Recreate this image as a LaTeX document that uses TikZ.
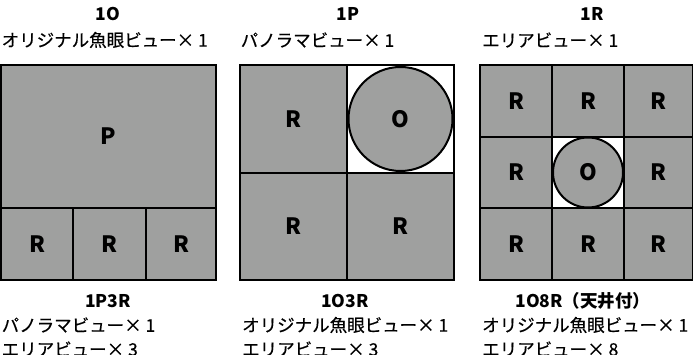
\documentclass[tikz,border=0pt]{standalone}
\usepackage{fontspec}
\setmainfont{Noto Sans CJK JP}
\newfontfamily\jpmed{Noto Sans CJK JP}[FakeBold=0.4]
\definecolor{cellgray}{RGB}{159,160,159}
\begin{document}
\begin{tikzpicture}[x=1pt,y=-1pt,
  cell/.style={draw=black, fill=cellgray, line width=2pt, inner sep=0pt, outer sep=0pt,
    rectangle, font=\fontsize{22.5}{24}\selectfont\bfseries},
  wcell/.style={draw=black, fill=white, line width=2pt, inner sep=0pt, outer sep=0pt, rectangle},
  eye/.style={draw=black, fill=cellgray, line width=2pt, inner sep=0pt, outer sep=0pt, circle,
    font=\fontsize{22.5}{24}\selectfont\bfseries},
  title/.style={inner sep=0pt, font=\fontsize{17.5}{19}\selectfont\bfseries},
  desc/.style={inner sep=0pt, anchor=west, font=\fontsize{17.5}{19}\selectfont\jpmed}]
\useasboundingbox (0,0) rectangle (693,355);
% top captions
\node[title] (t1) at (108,13.5) {1O};
\node[desc] (t1a) at (1.5,40) {オリジナル魚眼ビュー× 1};
\node[title] (t2) at (348,13.5) {1P};
\node[desc] (t2a) at (240.5,40) {パノラマビュー× 1};
\node[title] (t3) at (592,13.5) {1R};
\node[desc] (t3a) at (482,40) {エリアビュー× 1};
% panel 1
\node[cell, minimum width=215, minimum height=143] (p1p) at (108.5,136.5) {P};
\node[cell, minimum width=72, minimum height=72] (p1r1) at (37,244) {R};
\node[cell, minimum width=73, minimum height=72] (p1r2) at (109.5,244) {R};
\node[cell, minimum width=70, minimum height=72] (p1r3) at (181,244) {R};
% panel 2
\node[cell, minimum width=107, minimum height=108] (p2r1) at (293.5,119) {R};
\node[wcell, minimum width=107, minimum height=108] (p2w) at (400.5,119) {};
\node[eye, minimum size=104] (p2o) at (p2w.center) {O};
\node[cell, minimum width=107, minimum height=107] (p2r2) at (293.5,226.5) {R};
\node[cell, minimum width=107, minimum height=107] (p2r3) at (400.5,226.5) {R};
% panel 3
\node[cell, minimum width=72, minimum height=72] (p3a) at (516,101) {R};
\node[cell, minimum width=72, minimum height=72] (p3b) at (588,101) {R};
\node[cell, minimum width=68.5, minimum height=72] (p3c) at (658.25,101) {R};
\node[cell, minimum width=72, minimum height=71] (p3d) at (516,172.5) {R};
\node[wcell, minimum width=72, minimum height=71] (p3w) at (588,172.5) {};
\node[eye, minimum size=70] (p3o) at (p3w.center) {O};
\node[cell, minimum width=68.5, minimum height=71] (p3e) at (658.25,172.5) {R};
\node[cell, minimum width=72, minimum height=72] (p3f) at (516,244) {R};
\node[cell, minimum width=72, minimum height=72] (p3g) at (588,244) {R};
\node[cell, minimum width=68.5, minimum height=72] (p3h) at (658.25,244) {R};
% bottom captions
\node[title] (b1) at (108,301) {1P3R};
\node[desc] (b1a) at (1.5,325) {パノラマビュー× 1};
\node[desc] (b1b) at (1.5,349) {エリアビュー× 3};
\node[title] (b2) at (345,301) {1O3R};
\node[desc] (b2a) at (242,325) {オリジナル魚眼ビュー× 1};
\node[desc] (b2b) at (242,349) {エリアビュー× 3};
\node[title] (b3) at (583,301) {1O8R（天井付）};
\node[desc] (b3a) at (482,325) {オリジナル魚眼ビュー× 1};
\node[desc] (b3b) at (482,349) {エリアビュー× 8};
\end{tikzpicture}
\end{document}
